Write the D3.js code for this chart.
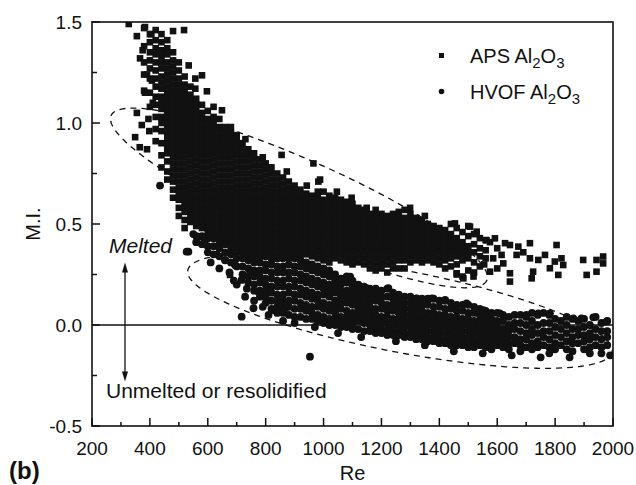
<!DOCTYPE html>
<html>
<head>
<meta charset="utf-8">
<script src="https://cdn.jsdelivr.net/npm/d3@7"></script>
<style>
  body { margin: 0; background: #fff; }
  svg { display: block; }
  text { font-family: "Liberation Sans", Arial, sans-serif; fill: #111; }
</style>
</head>
<body>
<div id="chart"></div>
<script>
// APS Al2O3 (squares): [Re, [M.I. values read down the column]]
let apsColumns = [
    [380, [1.47, 1.38, 1.30, 1.24, 1.16]],
    [400, [1.44, 1.40, 1.35, 1.31, 1.27, 1.22, 1.15, 1.08]],
    [420, [1.46, 1.41, 1.37, 1.34, 1.30, 1.26, 1.22, 1.18, 1.13, 1.09, 1.03, 0.97, 0.91]],
    [440, [1.44, 1.40, 1.36, 1.33, 1.30, 1.27, 1.23, 1.20, 1.17, 1.13, 1.10, 1.07, 1.03, 1.00, 0.96, 0.90, 0.84, 0.78]],
    [460, [1.41, 1.37, 1.34, 1.30, 1.27, 1.24, 1.21, 1.18, 1.15, 1.12, 1.09, 1.06, 1.03, 1.00, 0.97, 0.94, 0.91, 0.88, 0.85, 0.81, 0.76, 0.72]],
    [480, [1.35, 1.31, 1.28, 1.25, 1.22, 1.19, 1.16, 1.13, 1.10, 1.07, 1.04, 1.01, 0.98, 0.95, 0.92, 0.89, 0.86, 0.83, 0.80, 0.77, 0.74, 0.71, 0.67, 0.63]],
    [500, [1.30, 1.26, 1.22, 1.19, 1.16, 1.13, 1.10, 1.07, 1.04, 1.01, 0.98, 0.95, 0.92, 0.89, 0.86, 0.83, 0.80, 0.77, 0.74, 0.71, 0.68, 0.65, 0.62, 0.58, 0.54]],
    [520, [1.23, 1.19, 1.16, 1.13, 1.10, 1.07, 1.04, 1.01, 0.98, 0.95, 0.92, 0.89, 0.86, 0.83, 0.80, 0.77, 0.74, 0.71, 0.68, 0.65, 0.62, 0.59, 0.56, 0.52, 0.48]],
    [540, [1.18, 1.14, 1.11, 1.08, 1.05, 1.02, 0.99, 0.96, 0.93, 0.90, 0.87, 0.84, 0.81, 0.78, 0.75, 0.72, 0.69, 0.66, 0.63, 0.60, 0.57, 0.54, 0.51]],
    [560, [1.12, 1.09, 1.06, 1.03, 1.00, 0.97, 0.94, 0.91, 0.88, 0.85, 0.82, 0.79, 0.76, 0.73, 0.70, 0.67, 0.64, 0.61, 0.58, 0.55, 0.52, 0.49]],
    [580, [1.09, 1.05, 1.02, 0.99, 0.96, 0.93, 0.90, 0.87, 0.84, 0.81, 0.78, 0.75, 0.72, 0.69, 0.66, 0.63, 0.60, 0.57, 0.54, 0.51, 0.48]],
    [600, [1.06, 1.02, 0.99, 0.96, 0.93, 0.90, 0.87, 0.84, 0.81, 0.78, 0.75, 0.72, 0.69, 0.66, 0.63, 0.60, 0.57, 0.54, 0.51, 0.48, 0.45]],
    [620, [1.03, 1.00, 0.97, 0.94, 0.91, 0.88, 0.85, 0.82, 0.79, 0.76, 0.73, 0.70, 0.67, 0.64, 0.61, 0.58, 0.55, 0.52, 0.49, 0.46, 0.43]],
    [640, [1.02, 0.98, 0.95, 0.92, 0.89, 0.86, 0.83, 0.80, 0.77, 0.74, 0.71, 0.68, 0.65, 0.62, 0.59, 0.56, 0.53, 0.50, 0.47, 0.44, 0.41]],
    [660, [0.98, 0.95, 0.92, 0.89, 0.86, 0.83, 0.80, 0.77, 0.74, 0.71, 0.68, 0.65, 0.62, 0.59, 0.56, 0.53, 0.50, 0.47, 0.44, 0.41]],
    [680, [0.95, 0.92, 0.89, 0.86, 0.83, 0.80, 0.77, 0.74, 0.71, 0.68, 0.65, 0.62, 0.59, 0.56, 0.53, 0.50, 0.47, 0.44, 0.41, 0.38]],
    [700, [0.93, 0.90, 0.87, 0.84, 0.81, 0.78, 0.75, 0.72, 0.69, 0.66, 0.63, 0.60, 0.57, 0.54, 0.51, 0.48, 0.45, 0.42, 0.39, 0.36]],
    [720, [0.90, 0.87, 0.84, 0.81, 0.78, 0.75, 0.72, 0.69, 0.66, 0.63, 0.60, 0.57, 0.54, 0.51, 0.48, 0.45, 0.42, 0.39, 0.36]],
    [740, [0.87, 0.84, 0.81, 0.78, 0.75, 0.72, 0.69, 0.66, 0.63, 0.60, 0.57, 0.54, 0.51, 0.48, 0.45, 0.42, 0.39, 0.35]],
    [760, [0.85, 0.82, 0.79, 0.76, 0.73, 0.70, 0.67, 0.64, 0.61, 0.58, 0.55, 0.52, 0.49, 0.46, 0.43, 0.40, 0.37, 0.34]],
    [780, [0.82, 0.79, 0.76, 0.73, 0.70, 0.67, 0.64, 0.61, 0.58, 0.55, 0.52, 0.49, 0.46, 0.43, 0.40, 0.37, 0.34]],
    [800, [0.80, 0.77, 0.74, 0.71, 0.68, 0.65, 0.62, 0.59, 0.56, 0.53, 0.50, 0.47, 0.44, 0.41, 0.38, 0.35]],
    [820, [0.78, 0.75, 0.72, 0.69, 0.66, 0.63, 0.60, 0.57, 0.54, 0.51, 0.48, 0.45, 0.42, 0.39, 0.36, 0.33]],
    [840, [0.75, 0.72, 0.69, 0.66, 0.63, 0.60, 0.57, 0.54, 0.51, 0.48, 0.45, 0.42, 0.39, 0.36, 0.33]],
    [860, [0.73, 0.70, 0.67, 0.64, 0.61, 0.58, 0.55, 0.52, 0.49, 0.46, 0.43, 0.40, 0.37, 0.34]],
    [880, [0.71, 0.68, 0.65, 0.62, 0.59, 0.56, 0.53, 0.50, 0.47, 0.44, 0.41, 0.38, 0.35]],
    [900, [0.69, 0.66, 0.63, 0.60, 0.57, 0.54, 0.51, 0.48, 0.45, 0.42, 0.39, 0.36]],
    [920, [0.67, 0.64, 0.61, 0.58, 0.55, 0.52, 0.49, 0.46, 0.43, 0.40, 0.37, 0.34]],
    [940, [0.65, 0.62, 0.59, 0.56, 0.53, 0.50, 0.47, 0.44, 0.41, 0.38, 0.35]],
    [960, [0.64, 0.61, 0.58, 0.55, 0.52, 0.49, 0.46, 0.43, 0.40, 0.37, 0.34]],
    [980, [0.66, 0.63, 0.60, 0.57, 0.54, 0.51, 0.48, 0.45, 0.42, 0.39, 0.36, 0.33]],
    [1000, [0.66, 0.62, 0.59, 0.56, 0.53, 0.50, 0.47, 0.44, 0.41, 0.38, 0.35, 0.32]],
    [1020, [0.64, 0.61, 0.58, 0.55, 0.52, 0.49, 0.46, 0.43, 0.40, 0.37, 0.34, 0.31]],
    [1040, [0.63, 0.60, 0.57, 0.54, 0.51, 0.48, 0.45, 0.42, 0.39, 0.36, 0.33]],
    [1060, [0.62, 0.59, 0.56, 0.53, 0.50, 0.47, 0.44, 0.41, 0.38, 0.35, 0.32]],
    [1080, [0.61, 0.58, 0.55, 0.52, 0.49, 0.46, 0.43, 0.40, 0.37, 0.34, 0.31]],
    [1100, [0.60, 0.57, 0.54, 0.51, 0.48, 0.45, 0.42, 0.39, 0.36, 0.33, 0.30]],
    [1120, [0.58, 0.55, 0.52, 0.49, 0.46, 0.43, 0.40, 0.37, 0.34, 0.31]],
    [1140, [0.57, 0.54, 0.51, 0.48, 0.45, 0.42, 0.39, 0.36, 0.33, 0.30]],
    [1160, [0.55, 0.52, 0.49, 0.46, 0.43, 0.40, 0.37, 0.34, 0.31, 0.28]],
    [1180, [0.54, 0.51, 0.48, 0.45, 0.42, 0.39, 0.36, 0.33, 0.30, 0.27]],
    [1200, [0.55, 0.52, 0.49, 0.46, 0.43, 0.40, 0.37, 0.34, 0.31, 0.28]],
    [1220, [0.54, 0.51, 0.48, 0.45, 0.42, 0.39, 0.36, 0.33, 0.30, 0.26]],
    [1240, [0.55, 0.52, 0.49, 0.46, 0.43, 0.40, 0.37, 0.34, 0.31, 0.28]],
    [1260, [0.56, 0.53, 0.50, 0.47, 0.44, 0.41, 0.38, 0.35, 0.32, 0.28]],
    [1280, [0.57, 0.53, 0.50, 0.47, 0.44, 0.41, 0.38, 0.35, 0.32, 0.28]],
    [1300, [0.55, 0.52, 0.49, 0.46, 0.43, 0.40, 0.37, 0.34, 0.31]],
    [1320, [0.53, 0.50, 0.47, 0.44, 0.41, 0.38, 0.35, 0.32]],
    [1340, [0.52, 0.49, 0.46, 0.43, 0.40, 0.37, 0.34, 0.31]],
    [1360, [0.50, 0.47, 0.44, 0.41, 0.38, 0.35, 0.32]],
    [1380, [0.49, 0.46, 0.43, 0.40, 0.37, 0.34, 0.31]],
    [1400, [0.48, 0.45, 0.42, 0.39, 0.36, 0.33, 0.30]],
    [1420, [0.47, 0.44, 0.41, 0.38, 0.35, 0.32, 0.28]],
    [1440, [0.50, 0.45, 0.42, 0.39, 0.36, 0.33, 0.29]],
    [1460, [0.48, 0.43, 0.40, 0.37, 0.34, 0.30, 0.25]],
    [1480, [0.46, 0.41, 0.38, 0.35, 0.32, 0.24]],
    [1500, [0.49, 0.44, 0.39, 0.36, 0.33, 0.27]],
    [1520, [0.45, 0.40, 0.36, 0.31, 0.26]],
    [1540, [0.43, 0.38, 0.34, 0.29]],
    [1560, [0.42, 0.37, 0.33]]
];

// APS stray points outside the dense band: [Re, M.I.]
let apsScatter = [
    [327, 1.49], [355, 1.43], [383, 1.475], [405, 1.44], [366, 1.32], [349, 0.93], [390, 0.87],
    [355, 1.05], [407, 1.21], [383, 1.15], [390, 1.24], [375, 1.36], [372, 0.99], [395, 1.02],
    [365, 0.88], [398, 0.96], [480, 1.455], [518, 1.46], [534, 1.285], [557, 1.22], [580, 1.236],
    [557, 1.17], [597, 1.157], [649, 1.063], [410, 1.10], [620, 1.08], [680, 0.98], [700, 0.94],
    [730, 0.92], [757, 0.85], [790, 0.83], [815, 0.78], [855, 0.842], [873, 0.76], [942, 0.69],
    [965, 0.80], [982, 0.71], [988, 0.72], [1046, 0.66], [1097, 0.63], [1149, 0.58], [1180, 0.57],
    [1299, 0.58], [1350, 0.54], [1454, 0.503], [1506, 0.487], [1529, 0.462], [1563, 0.42],
    [1592, 0.429], [1575, 0.41], [631, 0.35], [677, 0.248], [1460, 0.256], [1483, 0.231],
    [1518, 0.24], [1555, 0.30], [1575, 0.264], [1586, 0.33], [1600, 0.38], [1600, 0.28],
    [1615, 0.347], [1621, 0.305], [1627, 0.405], [1644, 0.396], [1644, 0.256], [1644, 0.215],
    [1667, 0.347], [1673, 0.388], [1690, 0.36], [1713, 0.405], [1713, 0.33], [1719, 0.231],
    [1724, 0.264], [1742, 0.322], [1765, 0.347], [1782, 0.281], [1799, 0.314], [1805, 0.396],
    [1811, 0.248], [1822, 0.33], [1828, 0.297], [1897, 0.322], [1909, 0.248], [1943, 0.264],
    [1943, 0.322], [1966, 0.339], [1966, 0.305]
];

// HVOF Al2O3 (circles): [Re, [M.I. values read down the column]]
let hvofColumns = [
    [560, [0.44, 0.41]],
    [580, [0.44, 0.40]],
    [600, [0.43, 0.39, 0.36]],
    [620, [0.43, 0.39, 0.35]],
    [640, [0.42, 0.38, 0.34]],
    [660, [0.40, 0.36, 0.32]],
    [680, [0.39, 0.35, 0.31]],
    [700, [0.37, 0.33, 0.29]],
    [720, [0.37, 0.33, 0.29, 0.25]],
    [740, [0.36, 0.32, 0.28, 0.24, 0.21]],
    [760, [0.35, 0.31, 0.27, 0.24, 0.20, 0.17]],
    [780, [0.34, 0.31, 0.27, 0.24, 0.21, 0.17, 0.14]],
    [800, [0.34, 0.30, 0.27, 0.23, 0.20, 0.17, 0.14, 0.11]],
    [820, [0.33, 0.30, 0.26, 0.23, 0.19, 0.16, 0.12, 0.08]],
    [840, [0.33, 0.29, 0.26, 0.22, 0.19, 0.15, 0.12, 0.09, 0.06]],
    [860, [0.33, 0.29, 0.26, 0.22, 0.19, 0.15, 0.12, 0.09, 0.06]],
    [880, [0.33, 0.30, 0.26, 0.23, 0.19, 0.16, 0.12, 0.09, 0.05]],
    [900, [0.33, 0.29, 0.26, 0.22, 0.19, 0.15, 0.12, 0.08, 0.04]],
    [920, [0.32, 0.29, 0.25, 0.22, 0.18, 0.15, 0.11, 0.08, 0.04]],
    [940, [0.31, 0.28, 0.24, 0.21, 0.17, 0.14, 0.10, 0.07, 0.03]],
    [960, [0.30, 0.27, 0.23, 0.20, 0.16, 0.13, 0.09, 0.06, 0.03]],
    [980, [0.29, 0.26, 0.22, 0.19, 0.15, 0.12, 0.09, 0.05, 0.02]],
    [1000, [0.28, 0.25, 0.21, 0.18, 0.15, 0.11, 0.08, 0.04, 0.01]],
    [1020, [0.27, 0.24, 0.20, 0.17, 0.14, 0.10, 0.07, 0.03, 0.00]],
    [1040, [0.25, 0.22, 0.19, 0.16, 0.12, 0.09, 0.06, 0.03, 0.00]],
    [1060, [0.23, 0.20, 0.17, 0.14, 0.11, 0.08, 0.04, 0.01, -0.01]],
    [1080, [0.24, 0.21, 0.17, 0.14, 0.11, 0.07, 0.04, 0.01, -0.01]],
    [1100, [0.22, 0.19, 0.16, 0.13, 0.10, 0.06, 0.03, 0.00, -0.02]],
    [1120, [0.20, 0.17, 0.14, 0.11, 0.08, 0.05, 0.02, -0.02]],
    [1140, [0.19, 0.16, 0.13, 0.10, 0.07, 0.04, 0.01, -0.03]],
    [1160, [0.18, 0.15, 0.12, 0.09, 0.06, 0.03, 0.00, -0.03]],
    [1180, [0.18, 0.15, 0.12, 0.08, 0.05, 0.02, -0.01, -0.04]],
    [1200, [0.17, 0.14, 0.11, 0.08, 0.04, 0.01, -0.02, -0.04]],
    [1220, [0.18, 0.14, 0.10, 0.07, 0.04, 0.01, -0.02, -0.05]],
    [1240, [0.16, 0.13, 0.10, 0.07, 0.03, 0.00, -0.03, -0.05]],
    [1260, [0.15, 0.12, 0.09, 0.06, 0.03, 0.00, -0.03, -0.05]],
    [1280, [0.14, 0.11, 0.08, 0.05, 0.02, -0.01, -0.04, -0.06]],
    [1300, [0.14, 0.11, 0.08, 0.05, 0.02, -0.01, -0.04, -0.06]],
    [1320, [0.13, 0.10, 0.07, 0.04, 0.01, -0.02, -0.05, -0.07]],
    [1340, [0.13, 0.10, 0.07, 0.04, 0.01, -0.02, -0.05, -0.07]],
    [1360, [0.13, 0.10, 0.06, 0.03, 0.00, -0.03, -0.06, -0.08]],
    [1380, [0.13, 0.09, 0.06, 0.03, 0.00, -0.03, -0.06, -0.08]],
    [1400, [0.12, 0.09, 0.05, 0.02, -0.01, -0.04, -0.07, -0.09]],
    [1420, [0.12, 0.08, 0.05, 0.02, -0.01, -0.04, -0.07, -0.09]],
    [1440, [0.11, 0.08, 0.04, 0.01, -0.02, -0.05, -0.08, -0.10]],
    [1460, [0.10, 0.07, 0.04, 0.01, -0.02, -0.05, -0.08, -0.10]],
    [1480, [0.10, 0.07, 0.03, 0.00, -0.03, -0.06, -0.08, -0.10]],
    [1500, [0.10, 0.06, 0.03, 0.00, -0.03, -0.06, -0.09, -0.11]],
    [1520, [0.09, 0.06, 0.02, -0.01, -0.04, -0.07, -0.09, -0.11]],
    [1540, [0.08, 0.05, 0.02, -0.01, -0.04, -0.07, -0.10]],
    [1560, [0.07, 0.04, 0.01, -0.02, -0.05, -0.08, -0.11]],
    [1580, [0.06, 0.03, 0.00, -0.03, -0.06, -0.09, -0.12]],
    [1600, [0.06, 0.02, -0.01, -0.04, -0.07, -0.10]],
    [1620, [0.05, 0.02, -0.02, -0.05, -0.08, -0.11]],
    [1640, [0.04, 0.00, -0.03, -0.06, -0.09, -0.12]],
    [1660, [0.05, 0.01, -0.02, -0.06, -0.09]],
    [1680, [0.05, 0.01, -0.03, -0.07, -0.10, -0.13]],
    [1700, [0.04, 0.00, -0.04, -0.07, -0.11]],
    [1720, [0.06, 0.02, -0.02, -0.05, -0.09, -0.12]],
    [1740, [0.05, 0.00, -0.04, -0.08, -0.11]],
    [1760, [0.06, 0.01, -0.03, -0.06, -0.10]],
    [1780, [0.05, 0.01, -0.03, -0.07, -0.11, -0.14]],
    [1800, [0.03, -0.01, -0.05, -0.09, -0.12]],
    [1820, [0.02, -0.02, -0.06, -0.10]],
    [1840, [0.04, 0.00, -0.04, -0.08, -0.12]],
    [1860, [0.03, -0.02, -0.06, -0.09, -0.13]],
    [1880, [0.02, -0.02, -0.05, -0.09]],
    [1900, [0.03, -0.01, -0.05, -0.08, -0.12]],
    [1920, [0.00, -0.04, -0.07, -0.11, -0.14]],
    [1940, [0.04, -0.02, -0.06, -0.10]],
    [1960, [0.01, -0.03, -0.07, -0.11, -0.14]],
    [1980, [0.02, -0.03, -0.06, -0.10]]
];

// HVOF stray points
let hvofScatter = [
    [435, 0.69], [527, 0.363], [533, 0.363], [550, 0.45], [567, 0.437], [590, 0.42],
    [660, 0.322], [694, 0.297], [717, 0.223], [746, 0.256], [729, 0.14], [775, 0.165],
    [717, 0.041], [758, 0.083], [827, 0.074], [844, 0.074], [867, 0.083], [953, -0.157],
    [1149, 0.182], [1224, 0.182], [1092, 0.239], [1322, 0.132], [1374, 0.132], [1420, 0.124],
    [1494, 0.107], [1552, 0.074], [1609, 0.058], [1701, 0.05], [1742, 0.058], [1782, 0.058],
    [1863, 0.033], [1891, 0.033], [1932, 0.038], [1978, 0.017],
    [610, 0.31], [640, 0.28], [675, 0.26], [690, 0.22], [700, 0.20], [735, 0.18], [760, 0.12],
    [790, 0.09], [810, 0.05], [860, 0.02], [900, 0.01], [970, -0.01], [1050, -0.04],
    [1130, -0.06], [1250, -0.08], [1350, -0.10], [1450, -0.13], [1550, -0.14], [1650, -0.15],
    [1750, -0.16], [1850, -0.16], [1990, -0.15]
];

// axis ticks
let xTicks = [200, 400, 600, 800, 1000, 1200, 1400, 1600, 1800, 2000];
let xMinorTicks = [300, 500, 700, 900, 1100, 1300, 1500, 1700, 1900];
let yTicks = [-0.5, 0.0, 0.5, 1.0, 1.5];
let yMinorTicks = [-0.25, 0.25, 0.75, 1.25];

// dashed envelopes, in data units: centre and two semi-axis vectors
let apsEnvelope = {re: 915, mi: 0.629, a: [649, -0.408], b: [-54, -0.177]};
let hvofEnvelope = {re: 1264, mi: 0.069, a: [733, -0.202], b: [-27, -0.199]};

let w = 636;
let h = 485;
let margin = {left: 92, top: 22, right: 23, bottom: 59};
let ink = "#111";

let x = d3.scaleLinear().domain([200, 2000]).range([margin.left, w - margin.right]);
let y = d3.scaleLinear().domain([-0.5, 1.5]).range([h - margin.bottom, margin.top]);

let svg = d3.select("#chart")
    .append("svg")
    .attr("width", w)
    .attr("height", h);

svg.append("defs")
    .append("clipPath")
    .attr("id", "plotClip")
    .append("rect")
    .attr("x", margin.left)
    .attr("y", margin.top)
    .attr("width", w - margin.left - margin.right)
    .attr("height", h - margin.top - margin.bottom);

function flatten(columns, extra) {
    let pts = [];
    columns.forEach(function (c) {
        c[1].forEach(function (m) {
            pts.push([c[0], m]);
        });
    });
    return pts.concat(extra);
}

let apsPoints = flatten(apsColumns, apsScatter);
let hvofPoints = flatten(hvofColumns, hvofScatter);

let plot = svg.append("g").attr("clip-path", "url(#plotClip)");

// envelopes
function envelopePath(e) {
    let pts = d3.range(0, 2 * Math.PI, Math.PI / 90).map(function (t) {
        return [
            x(e.re + e.a[0] * Math.cos(t) + e.b[0] * Math.sin(t)),
            y(e.mi + e.a[1] * Math.cos(t) + e.b[1] * Math.sin(t))
        ];
    });
    return d3.line().curve(d3.curveLinearClosed)(pts);
}

[apsEnvelope, hvofEnvelope].forEach(function (e) {
    plot.append("path")
        .attr("d", envelopePath(e))
        .attr("fill", "none")
        .attr("stroke", ink)
        .attr("stroke-width", 1.3)
        .attr("stroke-dasharray", "6,5");
});

// zero line
plot.append("line")
    .attr("x1", x(200))
    .attr("x2", x(2000))
    .attr("y1", y(0))
    .attr("y2", y(0))
    .attr("stroke", ink)
    .attr("stroke-width", 1.5);

let sq = 6.6;
plot.selectAll("rect.aps")
    .data(apsPoints)
    .enter()
    .append("rect")
    .attr("class", "aps")
    .attr("x", function (d) { return x(d[0]) - sq / 2; })
    .attr("y", function (d) { return y(d[1]) - sq / 2; })
    .attr("width", sq)
    .attr("height", sq)
    .attr("fill", ink);

plot.selectAll("circle.hvof")
    .data(hvofPoints)
    .enter()
    .append("circle")
    .attr("class", "hvof")
    .attr("cx", function (d) { return x(d[0]); })
    .attr("cy", function (d) { return y(d[1]); })
    .attr("r", 3.9)
    .attr("fill", ink);

// frame
svg.append("rect")
    .attr("x", margin.left)
    .attr("y", margin.top)
    .attr("width", w - margin.left - margin.right)
    .attr("height", h - margin.top - margin.bottom)
    .attr("fill", "none")
    .attr("stroke", ink)
    .attr("stroke-width", 1.6);

// ticks (inward)
let xAxis = svg.append("g");
xAxis.selectAll("line.major")
    .data(xTicks)
    .enter()
    .append("line")
    .attr("x1", function (d) { return x(d); })
    .attr("x2", function (d) { return x(d); })
    .attr("y1", y(-0.5))
    .attr("y2", y(-0.5) - 8)
    .attr("stroke", ink)
    .attr("stroke-width", 1.5);
xAxis.selectAll("line.minor")
    .data(xMinorTicks)
    .enter()
    .append("line")
    .attr("x1", function (d) { return x(d); })
    .attr("x2", function (d) { return x(d); })
    .attr("y1", y(-0.5))
    .attr("y2", y(-0.5) - 4)
    .attr("stroke", ink)
    .attr("stroke-width", 1.5);
xAxis.selectAll("text")
    .data(xTicks)
    .enter()
    .append("text")
    .text(function (d) { return d; })
    .attr("x", function (d) { return x(d); })
    .attr("y", 455)
    .attr("text-anchor", "middle")
    .attr("font-size", "19px");

let yAxis = svg.append("g");
yAxis.selectAll("line.major")
    .data(yTicks)
    .enter()
    .append("line")
    .attr("x1", x(200))
    .attr("x2", x(200) + 8)
    .attr("y1", function (d) { return y(d); })
    .attr("y2", function (d) { return y(d); })
    .attr("stroke", ink)
    .attr("stroke-width", 1.5);
yAxis.selectAll("line.minor")
    .data(yMinorTicks)
    .enter()
    .append("line")
    .attr("x1", x(200))
    .attr("x2", x(200) + 5)
    .attr("y1", function (d) { return y(d); })
    .attr("y2", function (d) { return y(d); })
    .attr("stroke", ink)
    .attr("stroke-width", 1.5);
yAxis.selectAll("text")
    .data(yTicks)
    .enter()
    .append("text")
    .text(function (d) { return d.toFixed(1); })
    .attr("x", 82)
    .attr("y", function (d) { return y(d); })
    .attr("dy", "0.35em")
    .attr("text-anchor", "end")
    .attr("font-size", "19px");

// axis titles
svg.append("text")
    .text("Re")
    .attr("x", (x(200) + x(2000)) / 2)
    .attr("y", 480)
    .attr("text-anchor", "middle")
    .attr("font-size", "20px");

svg.append("text")
    .text("M.I.")
    .attr("transform", "translate(40," + y(0.5) + ") rotate(-90)")
    .attr("text-anchor", "middle")
    .attr("font-size", "20px");

svg.append("text")
    .text("(b)")
    .attr("x", 9)
    .attr("y", 479)
    .attr("font-family", "'Liberation Serif', 'Times New Roman', serif")
    .attr("font-weight", "bold")
    .attr("font-size", "24px");

// legend
let legend = svg.append("g");
legend.append("rect")
    .attr("x", 439)
    .attr("y", 53)
    .attr("width", 5)
    .attr("height", 5)
    .attr("fill", ink);
legend.append("circle")
    .attr("cx", 441.5)
    .attr("cy", 91.5)
    .attr("r", 2.8)
    .attr("fill", ink);

function legendLabel(name, ty) {
    let t = legend.append("text")
        .attr("x", 470)
        .attr("y", ty)
        .attr("font-size", "20px");
    t.append("tspan").text(name + " Al");
    t.append("tspan").text("2").attr("font-size", "15px").attr("dy", 5);
    t.append("tspan").text("O").attr("dy", -5);
    t.append("tspan").text("3").attr("font-size", "15px").attr("dy", 5);
}
legendLabel("APS", 63);
legendLabel("HVOF", 99);

// melted / unmelted annotation
svg.append("text")
    .text("Melted")
    .attr("x", 109)
    .attr("y", 253)
    .attr("font-style", "italic")
    .attr("font-size", "21px");

svg.append("text")
    .text("Unmelted or resolidified")
    .attr("x", 106)
    .attr("y", 398)
    .attr("font-size", "21px");

let arrowRe = 314;
let arrowTop = 0.31;
let arrowBottom = -0.28;
svg.append("line")
    .attr("x1", x(arrowRe))
    .attr("x2", x(arrowRe))
    .attr("y1", y(arrowTop) + 6)
    .attr("y2", y(arrowBottom) - 6)
    .attr("stroke", ink)
    .attr("stroke-width", 1.3);
svg.append("path")
    .attr("d", "M" + x(arrowRe) + "," + y(arrowTop) + " l-3,10 l6,0 z")
    .attr("fill", ink);
svg.append("path")
    .attr("d", "M" + x(arrowRe) + "," + y(arrowBottom) + " l-3,-10 l6,0 z")
    .attr("fill", ink);
</script>
</body>
</html>
